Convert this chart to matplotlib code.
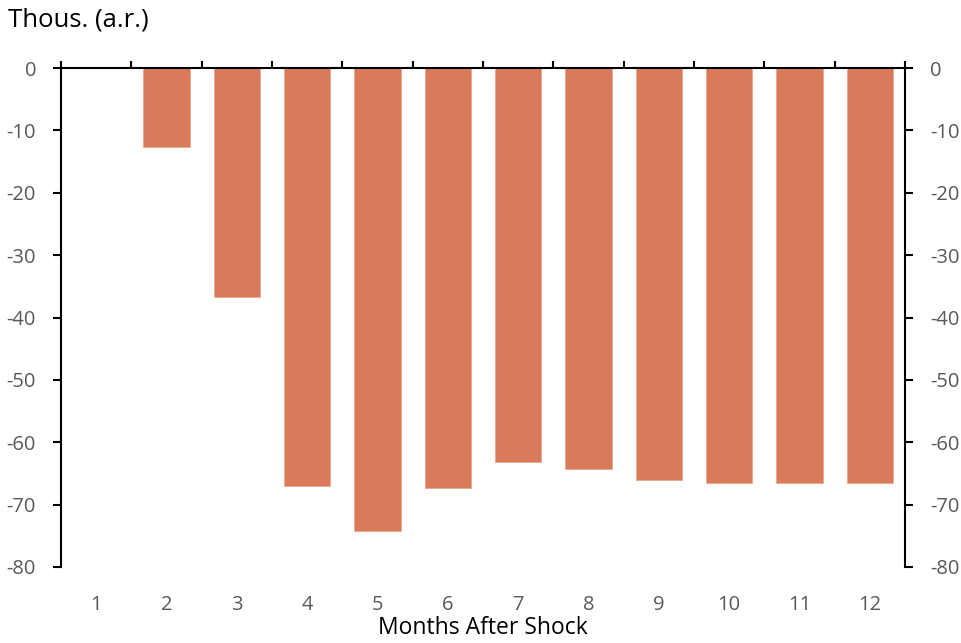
import numpy as np
import matplotlib.pyplot as plt
import matplotlib as mpl

mpl.rcParams['font.family'] = ['Open Sans', 'DejaVu Sans']
mpl.rcParams['axes.unicode_minus'] = False

# data
months = [1, 2, 3, 4, 5, 6, 7, 8, 9, 10, 11, 12]
values = [0.0, -12.7, -36.7, -67.0, -74.2, -67.4, -63.1, -64.3, -66.0, -66.5, -66.5, -66.5]
month_labels = [str(m) for m in months]
yticks = [0, -10, -20, -30, -40, -50, -60, -70, -80]

bar_col = '#D97B5A'
tick_col = '#595959'

fig = plt.figure(figsize=(9.61, 6.43), dpi=100)
ax = fig.add_axes([0.0635, 0.1182, 0.8782, 0.776])

x = np.arange(len(months))
ax.bar(x, values, width=0.66, color=bar_col, edgecolor='#E9A890', linewidth=0.6, zorder=2)

ax.set_xlim(-0.5, len(months) - 0.5)
ax.set_ylim(-80, 0)

# spines: left, right and the zero line on top
ax.spines['bottom'].set_visible(False)
for s in ['left', 'right', 'top']:
    ax.spines[s].set_linewidth(1.5)
    ax.spines[s].set_color('black')

# y ticks on both sides
ax.set_yticks(yticks)
ax.yaxis.set_ticks_position('both')
ax.tick_params(axis='y', which='major', direction='out', length=6, width=1.5,
               labelsize=14.5, labelcolor=tick_col, left=True, right=True,
               labelleft=True, labelright=True, pad=12)

# x: boundary ticks on the zero line, labels at bottom via minor ticks
ax.set_xticks(np.arange(len(months) + 1) - 0.5)
ax.set_xticklabels([])
ax.tick_params(axis='x', which='major', top=True, bottom=False, direction='out',
               length=5, width=1.5, labeltop=False, labelbottom=False)
ax.set_xticks(x, minor=True)
ax.set_xticklabels(month_labels, minor=True)
ax.tick_params(axis='x', which='minor', bottom=True, top=False, length=0,
               labelsize=14.5, labelcolor=tick_col, pad=20)

ax.set_xlabel('Months After Shock', fontsize=16.5, color='black', labelpad=1)
fig.text(8 / 961, 1 - 20 / 643, 'Thous. (a.r.)', fontsize=18.5, color='black',
         ha='left', va='center')

fig.savefig('out.png', dpi=100)
